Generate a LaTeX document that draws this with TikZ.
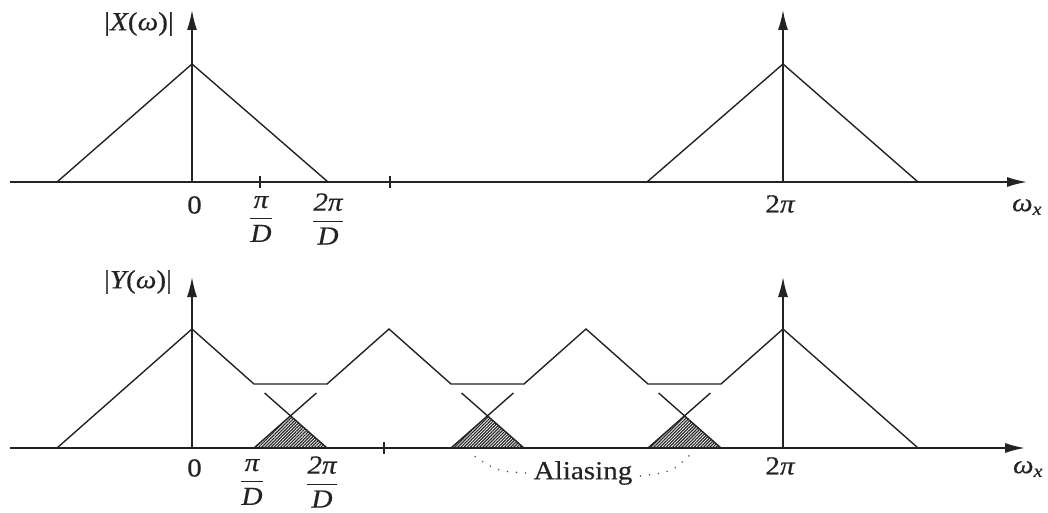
\documentclass[tikz,border=0pt]{standalone}
\usepackage{fontspec}
\setmainfont{Liberation Serif}[FakeStretch=1.12,FakeBold=0.4]
\usepackage{amsmath}
\usetikzlibrary{arrows.meta,patterns.meta}
\definecolor{ink}{RGB}{35,35,35}
\newcommand{\mi}[1]{\mbox{\itshape #1}}
\newcommand{\myfrac}[2]{$\genfrac{}{}{1.3pt}{0}{\mi{#1}}{\mi{#2}}$}
\newcommand{\omx}{$\mi{ω}_{\mbox{\fontsize{18}{20}\selectfont\itshape x}}$}
\tikzset{
  axis/.style={ink, line width=1.6pt, -{Latex[length=20pt,width=10pt]}},
  curve/.style={ink, line width=1.4pt, line join=miter},
  tickmark/.style={ink, line width=1.4pt},
  lbl/.style={font=\fontsize{26}{30}\selectfont, text=ink, inner sep=0pt},
  aliasdots/.style={ink!75, line width=1.8pt, dash pattern=on 0.01pt off 9pt, line cap=round},
  hatch/.style={pattern={Lines[angle=45,distance=2.2pt,line width=1.2pt]}, pattern color=ink}
}
\begin{document}
\begin{tikzpicture}[x=1pt,y=-1pt]
\useasboundingbox (0,0) rectangle (1048,513);
% ---------------- top panel ----------------
\coordinate (tA) at (10,182);
\coordinate (tB) at (1027,182);
\coordinate (t0) at (192,182);
\coordinate (t0top) at (192,10);
\coordinate (t2) at (783,182);
\coordinate (t2top) at (783,10);
\draw[axis] (tA) -- (tB);
\draw[axis] (t0) -- (t0top);
\draw[axis] (t2) -- (t2top);
\draw[curve] (57,182) -- (192,64) -- (328,182);
\draw[curve] (647,182) -- (783,64) -- (918,182);
\draw[tickmark] (260,176) -- (260,188);
\draw[tickmark] (390,176) -- (390,188);
\node[lbl] (tl0) at (194.5,205) {0};
\node[lbl] (tlpd) at (261,219) {\myfrac{π}{D}};
\node[lbl] (tl2pd) at (328,219) {\myfrac{2π}{D}};
\node[lbl] (tl2p) at (780,204) {2\mi{π}};
\node[lbl] (tlw) at (1027,207) {\omx};
\node[lbl] (tlX) at (139,24) {|\mi{X}(\mi{ω})|};
% ---------------- bottom panel ----------------
\coordinate (bA) at (10,448);
\coordinate (bB) at (1025,448);
\coordinate (b0) at (192,448);
\coordinate (b0top) at (192,277);
\coordinate (b2) at (783,448);
\coordinate (b2top) at (783,277);
\draw[axis] (bA) -- (bB);
\draw[axis] (b0) -- (b0top);
\draw[axis] (b2) -- (b2top);
\draw[curve] (57,448) -- (192,329) -- (254,384) -- (327,384) -- (389,329)
  -- (451,384) -- (524,384) -- (586,329) -- (648,384) -- (721,384)
  -- (783,329) -- (918,448);
\foreach \c in {192,389,586}{
  \fill[hatch] (\c+62,448) -- (\c+98.5,415.8) -- (\c+135,448) -- cycle;
  \draw[curve] (\c+72.6,393) -- (\c+135,448);
  \draw[curve] (\c+197-72.6,393) -- (\c+62,448);
}
\draw[tickmark] (384,442) -- (384,454);
\node[lbl] (bl0) at (194.5,468) {0};
\node[lbl] (blpd) at (252,482) {\myfrac{π}{D}};
\node[lbl] (bl2pd) at (322,482) {\myfrac{2π}{D}};
\node[lbl] (bl2p) at (780,466) {2\mi{π}};
\node[lbl] (blw) at (1028,469) {\omx};
\node[lbl] (blY) at (138,282) {|\mi{Y}(\mi{ω})|};
\node[lbl, inner xsep=8pt] (al) at (583,473) {Aliasing};
\coordinate (h2) at (470,453);
\coordinate (h3) at (692,453);
\draw[aliasdots] (al.west) .. controls (496,471) .. (h2);
\draw[aliasdots] ([yshift=-3pt]al.east) .. controls (672,472) .. (h3);
\end{tikzpicture}
\end{document}
